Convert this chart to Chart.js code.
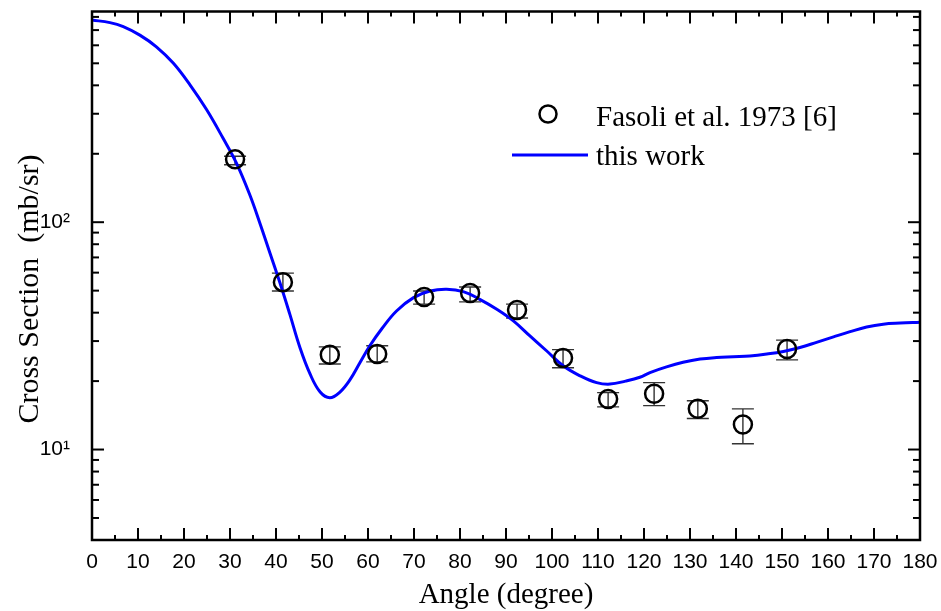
<!DOCTYPE html>
<html>
<head>
<meta charset="utf-8">
<script src="https://cdn.jsdelivr.net/npm/chart.js@4.4.0/dist/chart.umd.min.js"></script>
<style>
  html, body { margin: 0; padding: 0; background: #fff; }
</style>
</head>
<body>
<canvas id="chart" width="941" height="611"></canvas>
<script>
// experimental data (Fasoli et al. 1973)
const expAngle = [31.1, 41.5, 51.7, 62.0, 72.2, 82.2, 92.4, 102.4, 112.2, 122.2, 131.7, 141.5, 151.1];
const expValue = [189, 54.5, 26.1, 26.3, 46.9, 48.8, 41.1, 25.3, 16.7, 17.6, 15.1, 12.9, 27.7];
const expLow = [179, 49.8, 23.8, 24.3, 43.6, 44.6, 37.9, 22.9, 15.4, 15.6, 13.7, 10.6, 24.8];
const expHigh = [195, 59.7, 28.3, 28.6, 49.8, 51.9, 43.6, 27.5, 17.8, 19.7, 16.4, 15.1, 30.3];

// calculated curve (this work)
const calcAngle = [0, 3.9, 6.8, 10.4, 14, 17.7, 21.3, 24.9, 28.5, 31.4, 34.3, 36.5, 38.7, 41.2, 43,
  45.2, 47.4, 49.6, 51.7, 53.9, 56.1, 58.3, 60.4, 63, 66.2, 69.9, 73.5, 77.1, 80.7, 84.3, 88,
  91.6, 95.2, 98.8, 102.5, 106.1, 109.7, 112.6, 116, 119.1, 121.3, 124.9, 128.5, 132.2, 135.8,
  139.4, 143, 146.7, 150.3, 153.9, 157.5, 161.2, 164.8, 168.4, 172, 175.7, 180];
const calcValue = [775, 755, 725, 665, 591, 500, 402, 313, 234, 182, 132, 99, 73, 51.5, 39.4,
  28.1, 21.5, 17.9, 16.9, 17.9, 20.3, 24.2, 28.6, 34, 40.7, 46.6, 49.8, 50.7, 49.5, 45.8, 41.4,
  36.8, 31.6, 27.2, 23.3, 21.1, 19.7, 19.4, 20.0, 20.8, 21.8, 23.1, 24.2, 25.0, 25.4,
  25.6, 25.8, 26.3, 27.0, 28.1, 29.6, 31.3, 33.0, 34.6, 35.6, 36.0, 36.3];

// ticks
const xTicks = [0, 10, 20, 30, 40, 50, 60, 70, 80, 90, 100, 110, 120, 130, 140, 150, 160, 170, 180];
const xMinor = [5, 15, 25, 35, 45, 55, 65, 75, 85, 95, 105, 115, 125, 135, 145, 155, 165, 175];
const yTicks = [10, 100];
const yTickLabels = ["10\u00b9", "10\u00b2"];
const yMinor = [4, 5, 6, 7, 8, 9, 20, 30, 40, 50, 60, 70, 80, 90, 200, 300, 400, 500, 600, 700, 800];

const serif = '"Liberation Serif", "Times New Roman", serif';
const sans = '"Liberation Sans", Arial, sans-serif';

// drop the label overhang padding so the plot box sits where we want it
const noPad = s => {
  s.paddingTop = 0; s.paddingBottom = 0; s.paddingLeft = 0; s.paddingRight = 0;
};

const boxPlugin = {
  id: "box",
  beforeDatasetsDraw(chart) {
    // error bars
    const { ctx, scales: { x, y } } = chart;
    ctx.save();
    ctx.strokeStyle = "#333";
    ctx.lineWidth = 1.4;
    expAngle.forEach((a, i) => {
      const px = x.getPixelForValue(a);
      const lo = y.getPixelForValue(expLow[i]);
      const hi = y.getPixelForValue(expHigh[i]);
      ctx.beginPath();
      ctx.moveTo(px, lo); ctx.lineTo(px, hi);
      ctx.moveTo(px - 11, lo); ctx.lineTo(px + 11, lo);
      ctx.moveTo(px - 11, hi); ctx.lineTo(px + 11, hi);
      ctx.stroke();
    });
    ctx.restore();
  },
  afterDraw(chart) {
    const { ctx, chartArea: a, scales: { x, y } } = chart;
    ctx.save();
    ctx.strokeStyle = "#000";
    ctx.lineWidth = 2.5;
    ctx.strokeRect(a.left, a.top, a.right - a.left, a.bottom - a.top);

    const line = (x1, y1, x2, y2) => {
      ctx.beginPath(); ctx.moveTo(x1, y1); ctx.lineTo(x2, y2); ctx.stroke();
    };
    ctx.lineWidth = 2;
    xTicks.forEach(v => {
      const px = x.getPixelForValue(v);
      line(px, a.bottom, px, a.bottom - 12);
      line(px, a.top, px, a.top + 12);
    });
    xMinor.forEach(v => {
      const px = x.getPixelForValue(v);
      line(px, a.bottom, px, a.bottom - 5);
      line(px, a.top, px, a.top + 5);
    });
    yTicks.forEach(v => {
      const py = y.getPixelForValue(v);
      line(a.left, py, a.left + 12, py);
      line(a.right, py, a.right - 12, py);
    });
    yMinor.forEach(v => {
      const py = y.getPixelForValue(v);
      line(a.left, py, a.left + 7, py);
      line(a.right, py, a.right - 7, py);
    });

    // axis titles
    ctx.fillStyle = "#000";
    ctx.font = "29px " + serif;
    ctx.textAlign = "center";
    ctx.textBaseline = "alphabetic";
    ctx.fillText("Angle (degree)", (a.left + a.right) / 2, 603);
    ctx.save();
    ctx.font = "30px " + serif;
    ctx.translate(38, 289);
    ctx.rotate(-Math.PI / 2);
    ctx.fillText("Cross Section  (mb/sr)", 0, 0);
    ctx.restore();

    // legend
    ctx.textAlign = "left";
    ctx.beginPath();
    ctx.lineWidth = 2.5;
    ctx.arc(548, 114, 8.5, 0, Math.PI * 2);
    ctx.stroke();
    ctx.fillText("Fasoli et al. 1973 [6]", 596, 126);
    ctx.strokeStyle = "#0000ff";
    ctx.lineWidth = 3;
    line(512, 155, 588, 155);
    ctx.fillText("this work", 596, 165);
    ctx.restore();
  }
};

const ctx = document.getElementById("chart").getContext("2d");
new Chart(ctx, {
  type: "line",
  data: {
    datasets: [
      {
        label: "Fasoli et al. 1973 [6]",
        data: expAngle.map((a, i) => ({ x: a, y: expValue[i] })),
        showLine: false,
        pointStyle: "circle",
        pointRadius: 9,
        pointBorderWidth: 2.5,
        pointBorderColor: "#000",
        pointBackgroundColor: "rgba(0,0,0,0)",
        order: 1,
      },
      {
        label: "this work",
        data: calcAngle.map((a, i) => ({ x: a, y: calcValue[i] })),
        borderColor: "#0000ff",
        borderWidth: 3,
        pointRadius: 0,
        tension: 0.4,
        order: 2,
      },
    ],
  },
  options: {
    responsive: false,
    animation: false,
    devicePixelRatio: 1,
    layout: { padding: { left: 0, right: 21, top: 10, bottom: 0 } },
    plugins: { legend: { display: false }, tooltip: { enabled: false } },
    scales: {
      x: {
        type: "linear",
        min: 0,
        max: 180,
        afterBuildTicks: s => { s.ticks = xTicks.map(v => ({ value: v })); },
        afterFit: s => { s.height = 71; noPad(s); },
        grid: { display: false },
        border: { display: false },
        ticks: { color: "#000", font: { family: sans, size: 21 }, padding: 2, maxRotation: 0, autoSkip: false },
      },
      y: {
        type: "logarithmic",
        min: 4,
        max: 845,
        afterBuildTicks: s => { s.ticks = yTicks.map(v => ({ value: v })); },
        afterFit: s => { s.width = 92; noPad(s); },
        grid: { display: false },
        border: { display: false },
        ticks: {
          color: "#000",
          font: { family: sans, size: 21 },
          padding: 14,
          autoSkip: false,
          callback: v => yTickLabels[yTicks.indexOf(v)] || "",
        },
      },
    },
  },
  plugins: [boxPlugin],
});
</script>
</body>
</html>
